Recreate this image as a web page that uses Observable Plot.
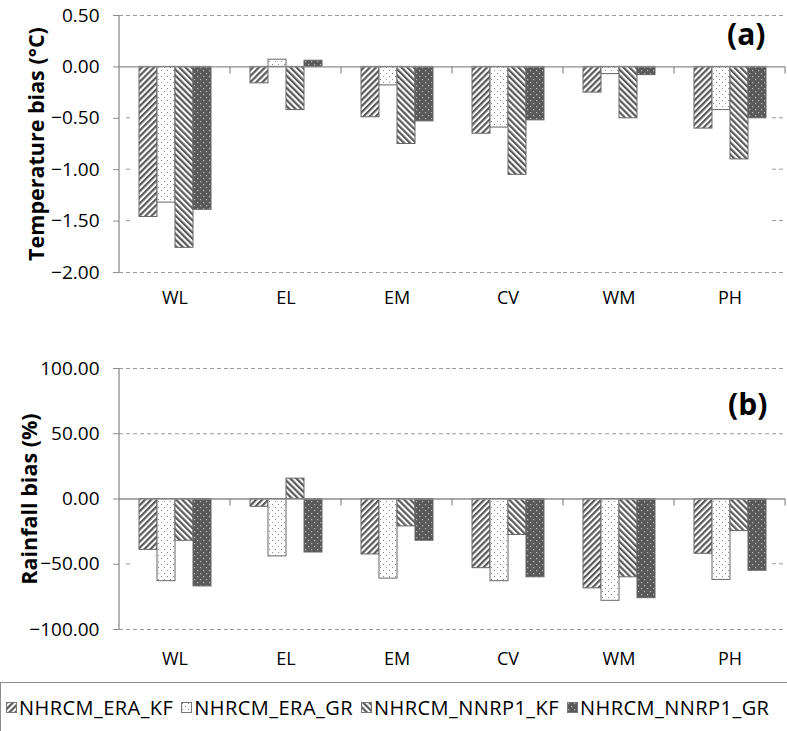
<!DOCTYPE html>
<html>
<head>
<meta charset="utf-8">
<script src="https://cdn.jsdelivr.net/npm/d3@7"></script>
<script src="https://cdn.jsdelivr.net/npm/@observablehq/plot@0.6"></script>
<style>
  html, body { margin: 0; padding: 0; background: #fff; }
  body { width: 787px; height: 731px; overflow: hidden; position: relative; font-family: "Open Sans", sans-serif; }
  .panel { position: relative; }
  .tag { position: absolute; font-family: "Open Sans", sans-serif; font-weight: bold; font-size: 30px; line-height: 1; color: #000; }
  svg g[aria-label="y-axis label"] text { font-weight: bold; font-size: 21.5px; }
  #legend { position: absolute; left: 0; top: 682px; width: 800px; height: 49px; border: 1px solid #8c8c8c; border-right: none; border-bottom: none; box-sizing: border-box; display: flex; align-items: center; padding-left: 5px; white-space: nowrap; }
  .item { display: flex; align-items: center; margin-right: 8px; font-size: 20px; letter-spacing: 0.45px; color: #000; }
  .item svg { margin-right: 2px; }
</style>
</head>
<body>
<svg width="0" height="0" style="position:absolute">
  <defs>
    <pattern id="pEraKF" patternUnits="userSpaceOnUse" width="4.3" height="4.3" patternTransform="rotate(45)">
      <rect width="4.3" height="4.3" fill="#fff"/>
      <rect width="2.2" height="4.3" fill="#595959"/>
    </pattern>
    <pattern id="pEraGR" patternUnits="userSpaceOnUse" width="6" height="6">
      <rect width="6" height="6" fill="#fff"/>
      <rect x="1" y="1" width="1" height="1" fill="#8a8a8a"/>
      <rect x="4" y="4" width="1" height="1" fill="#8a8a8a"/>
    </pattern>
    <pattern id="pNnrpKF" patternUnits="userSpaceOnUse" width="4.3" height="4.3" patternTransform="rotate(-45)">
      <rect width="4.3" height="4.3" fill="#fff"/>
      <rect width="2.2" height="4.3" fill="#595959"/>
    </pattern>
    <pattern id="pNnrpGR" patternUnits="userSpaceOnUse" width="6" height="6">
      <rect width="6" height="6" fill="#595959"/>
      <rect x="1" y="1" width="1.2" height="1.2" fill="#bdbdbd"/>
      <rect x="4" y="4" width="1.2" height="1.2" fill="#bdbdbd"/>
    </pattern>
  </defs>
</svg>

<div class="panel" id="panelA"><div class="tag" style="left:727px;top:19px">(a)</div></div>
<div class="panel" id="panelB"><div class="tag" style="left:728px;top:69px">(b)</div></div>
<div id="legend"></div>

<script>
// ---- data ----
const regions = ["WL", "EL", "EM", "CV", "WM", "PH"];
const seriesNames = ["NHRCM_ERA_KF", "NHRCM_ERA_GR", "NHRCM_NNRP1_KF", "NHRCM_NNRP1_GR"];
const patternFills = ["url(#pEraKF)", "url(#pEraGR)", "url(#pNnrpKF)", "url(#pNnrpGR)"];

const tempEraKF  = [-1.46, -0.16, -0.49, -0.65, -0.25, -0.60];
const tempEraGR  = [-1.32,  0.07, -0.18, -0.59, -0.07, -0.42];
const tempNnrpKF = [-1.76, -0.42, -0.75, -1.05, -0.50, -0.90];
const tempNnrpGR = [-1.39,  0.06, -0.53, -0.52, -0.08, -0.50];

const rainEraKF  = [-39, -6, -42.5, -53, -68.5, -42];
const rainEraGR  = [-63, -44, -61, -63, -78, -62];
const rainNnrpKF = [-32, 15.6, -21, -27.6, -60, -24.6];
const rainNnrpGR = [-67, -41, -32, -60, -76, -55];

const tempTicks = [0.5, 0, -0.5, -1, -1.5, -2];
const rainTicks = [100, 50, 0, -50, -100];

function rows(seriesValues) {
  const out = [];
  regions.forEach((r, i) => {
    seriesNames.forEach((s, j) => out.push({region: r, series: s, value: seriesValues[j][i]}));
  });
  return out;
}

const tempRows = rows([tempEraKF, tempEraGR, tempNnrpKF, tempNnrpGR]);
const rainRows = rows([rainEraKF, rainEraGR, rainNnrpKF, rainNnrpGR]);

const gridColor = "#9a9a9a";
const axisColor = "#8c8c8c";

function makePanel({data, ticks, domain, fullGrid, stubs, label, height, marginTop, marginBottom, labelOffset, fxPadding}) {
  const chart = Plot.plot({
    width: 787,
    height,
    marginLeft: 118,
    marginRight: 2,
    marginTop,
    marginBottom,
    style: {fontFamily: "Open Sans, sans-serif", fontSize: "19px", color: "#000", background: "transparent"},
    fx: {domain: regions, padding: 0, axis: null, label: null},
    x: {domain: seriesNames, paddingInner: 0, paddingOuter: 1.04, axis: null},
    y: {domain, axis: null},
    color: {domain: seriesNames, range: patternFills},
    marks: [
      Plot.ruleY(fullGrid, {stroke: gridColor, strokeDasharray: "4,3", strokeWidth: 1}),
      Plot.axisY({ticks, tickFormat: d3.format(".2f"), tickSize: 6, tickPadding: 14, stroke: axisColor,
        label, labelAnchor: "center", labelArrow: "none", labelOffset, fontSize: 19}),
      Plot.barY(data, {fx: "region", x: "series", y: "value", fill: "series", stroke: "#666", strokeWidth: 1}),
      Plot.ruleY([0], {stroke: axisColor, strokeWidth: 1.3}),
      Plot.axisFx({anchor: "bottom", tickSize: 0, tickPadding: fxPadding, fontSize: 18, label: null})
    ]
  });

  // decorations from the library's own scales: y axis line, category boundary ticks, grid stubs
  const svg = d3.select(chart.tagName.toLowerCase() === "svg" ? chart : chart.querySelector("svg"));
  const fx = chart.scale("fx");
  const y = chart.scale("y");
  const fxApply = fx.apply ? (v) => fx.apply(v) : d3.scaleBand(fx.domain, fx.range).padding(0);
  const bw = fx.bandwidth != null ? fx.bandwidth : (fx.range[1] - fx.range[0]) / regions.length;
  const x0 = fxApply(regions[0]);
  const x1 = fxApply(regions[regions.length - 1]) + bw;
  const yApply = (v) => y.apply(v);
  const g = svg.append("g");
  g.append("line").attr("x1", x0).attr("x2", x0)
    .attr("y1", yApply(domain[1])).attr("y2", yApply(domain[0]))
    .attr("stroke", axisColor).attr("stroke-width", 1.3);
  regions.forEach((r) => {
    const xb = fxApply(r) + bw;
    g.append("line").attr("x1", xb).attr("x2", xb)
      .attr("y1", yApply(0)).attr("y2", yApply(0) + 7)
      .attr("stroke", axisColor).attr("stroke-width", 1.2);
  });
  stubs.forEach((v) => {
    g.append("line").attr("x1", x0 + 7).attr("x2", x0 + 12)
      .attr("y1", yApply(v)).attr("y2", yApply(v))
      .attr("stroke", gridColor).attr("stroke-dasharray", "4,3");
    g.append("line").attr("x1", x1 - 13).attr("x2", x1)
      .attr("y1", yApply(v)).attr("y2", yApply(v))
      .attr("stroke", gridColor).attr("stroke-dasharray", "4,3");
  });
  return chart;
}

const chartA = makePanel({
  data: tempRows, ticks: tempTicks, domain: [-2, 0.5], fullGrid: [0.5, -2], stubs: [-0.5, -1, -1.5],
  label: "Temperature bias (°C)", height: 320, marginTop: 15, marginBottom: 48, labelOffset: 91, fxPadding: 19
});
const chartB = makePanel({
  data: rainRows, ticks: rainTicks, domain: [-100, 100], fullGrid: [100, 50, -100], stubs: [-50],
  label: "Rainfall bias (%)", height: 362, marginTop: 48, marginBottom: 53, labelOffset: 98, fxPadding: 23
});
document.getElementById("panelA").prepend(chartA);
document.getElementById("panelB").prepend(chartB);

// legend
const legend = d3.select("#legend");
seriesNames.forEach((s, i) => {
  const item = legend.append("div").attr("class", "item");
  const sw = item.append("svg").attr("width", 11).attr("height", 11);
  sw.append("rect").attr("x", 0.5).attr("y", 0.5).attr("width", 10).attr("height", 10)
    .attr("fill", patternFills[i]).attr("stroke", "#777").attr("stroke-width", 1);
  item.append("span").text(s);
});
</script>
</body>
</html>
